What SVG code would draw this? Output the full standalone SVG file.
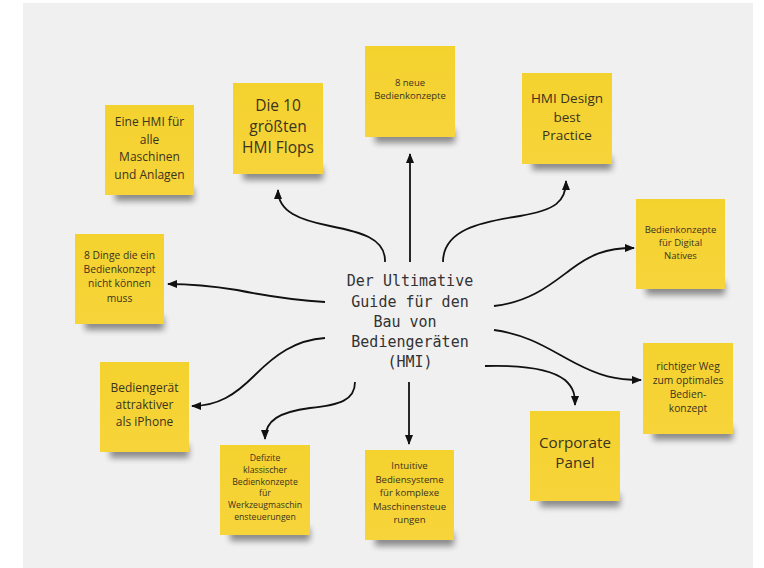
<svg xmlns="http://www.w3.org/2000/svg" width="764" height="568" viewBox="0 0 764 568">
<defs>
<filter id="blur" x="-20%" y="-50%" width="140%" height="200%"><feGaussianBlur stdDeviation="3"/></filter>
<linearGradient id="yel" x1="0" y1="0" x2="0" y2="1"><stop offset="0" stop-color="#f4d22e"/><stop offset="1" stop-color="#f7d43a"/></linearGradient>
<marker id="ah" markerUnits="userSpaceOnUse" markerWidth="10" markerHeight="8" refX="9" refY="4" orient="auto"><path d="M0,0 L10,4 L0,8 Z" fill="#111"/></marker>
<style>
.bg{fill:#f0f0f0}
.note{fill:url(#yel)}
.sh{fill:#000;opacity:.42;filter:url(#blur)}
.t{font-family:"Open Sans","Noto Sans","Liberation Sans",sans-serif;fill:#3a3320;text-anchor:middle}
.c{font-family:"DejaVu Sans Mono","Liberation Mono",monospace;font-size:15px;fill:#333;text-anchor:middle}
.e{fill:none;stroke:#111;stroke-width:1.8;marker-end:url(#ah)}
</style>
</defs>
<rect class="bg" x="23" y="3" width="730" height="565"/>

<g id="connectors">
<path class="e" d="M385,262 C386,238 360,232 330,226 C300,220 278,212 278,190"/>
<path class="e" d="M410,262 L410,154"/>
<path class="e" d="M443,262 C443,230 480,222 520,216 C555,210 566,202 566,181"/>
<path class="e" d="M494,306 C530,302 550,285 570,270 C590,255 605,248 634,248"/>
<path class="e" d="M325,302 C290,300 262,295 237,290 C212,286 192,284 168,284"/>
<path class="e" d="M325,338 C295,340 275,355 255,375 C235,395 218,406 192,406"/>
<path class="e" d="M355,382 C355,400 340,405 310,408 C280,412 265,420 265,439"/>
<path class="e" d="M409,382 L409,444"/>
<path class="e" d="M485,366 C520,365 550,368 565,380 C574,388 575,395 575,405"/>
<path class="e" d="M494,330 C530,335 550,350 575,363 C600,376 615,380 641,380"/>
</g>

<g id="center">
<text class="c" x="410" y="286">Der Ultimative</text>
<text class="c" x="410" y="307">Guide für den</text>
<text class="c" x="405" y="327">Bau von</text>
<text class="c" x="410" y="347">Bediengeräten</text>
<text class="c" x="410" y="367">(HMI)</text>
</g>

<g id="n1">
<rect class="sh" x="115" y="188" width="79" height="13"/>
<rect class="note" x="105" y="105" width="89" height="90"/>
<text class="t" font-size="12"><tspan x="149.5" y="126">Eine HMI für</tspan><tspan x="149.5" y="143.5">alle</tspan><tspan x="149.5" y="161">Maschinen</tspan><tspan x="149.5" y="178.5">und Anlagen</tspan></text>
</g>

<g id="n2">
<rect class="sh" x="243" y="167" width="80" height="13"/>
<rect class="note" x="233" y="83" width="90" height="91"/>
<text class="t" font-size="15.5"><tspan x="278" y="110.5">Die 10</tspan><tspan x="278" y="131.5">größten</tspan><tspan x="278" y="152.5">HMI Flops</tspan></text>
</g>

<g id="n3">
<rect class="sh" x="375" y="130" width="80" height="13"/>
<rect class="note" x="365" y="46" width="90" height="91"/>
<text class="t" font-size="9.5"><tspan x="410" y="85.5">8 neue</tspan><tspan x="410" y="99">Bedienkonzepte</tspan></text>
</g>

<g id="n4">
<rect class="sh" x="532" y="157" width="80" height="13"/>
<rect class="note" x="522" y="73" width="90" height="91"/>
<text class="t" font-size="13.5"><tspan x="567" y="103">HMI Design</tspan><tspan x="567" y="122">best</tspan><tspan x="567" y="140">Practice</tspan></text>
</g>

<g id="n5">
<rect class="sh" x="646" y="282" width="79" height="13"/>
<rect class="note" x="636" y="199" width="89" height="90"/>
<text class="t" font-size="9.5"><tspan x="680.5" y="232.5">Bedienkonzepte</tspan><tspan x="680.5" y="245.5">für Digital</tspan><tspan x="680.5" y="258.5">Natives</tspan></text>
</g>

<g id="n6">
<rect class="sh" x="85" y="317" width="79" height="13"/>
<rect class="note" x="75" y="234" width="89" height="90"/>
<text class="t" font-size="10.3"><tspan x="119.5" y="258.6">8 Dinge die ein</tspan><tspan x="119.5" y="273">Bedienkonzept</tspan><tspan x="119.5" y="287.4">nicht können</tspan><tspan x="119.5" y="301.8">muss</tspan></text>
</g>

<g id="n7">
<rect class="sh" x="110" y="445" width="79" height="13"/>
<rect class="note" x="100" y="362" width="89" height="90"/>
<text class="t" font-size="12"><tspan x="144.5" y="392">Bediengerät</tspan><tspan x="144.5" y="409">attraktiver</tspan><tspan x="144.5" y="426">als iPhone</tspan></text>
</g>

<g id="n8">
<rect class="sh" x="230" y="528" width="80" height="13"/>
<rect class="note" x="220" y="445" width="90" height="90"/>
<text class="t" font-size="8.7"><tspan x="265" y="461">Defizite</tspan><tspan x="265" y="472.8">klassischer</tspan><tspan x="265" y="484.6">Bedienkonzepte</tspan><tspan x="265" y="496.4">für</tspan><tspan x="265" y="508.2">Werkzeugmaschin</tspan><tspan x="265" y="520">ensteuerungen</tspan></text>
</g>

<g id="n9">
<rect class="sh" x="375" y="533" width="79" height="13"/>
<rect class="note" x="365" y="450" width="89" height="90"/>
<text class="t" font-size="9.6"><tspan x="409.5" y="469.4">Intuitive</tspan><tspan x="409.5" y="482.9">Bediensysteme</tspan><tspan x="409.5" y="496.4">für komplexe</tspan><tspan x="409.5" y="509.9">Maschinensteue</tspan><tspan x="409.5" y="523.4">rungen</tspan></text>
</g>

<g id="n10">
<rect class="sh" x="540" y="494" width="80" height="13"/>
<rect class="note" x="530" y="411" width="90" height="90"/>
<text class="t" font-size="15.2"><tspan x="575" y="448.3">Corporate</tspan><tspan x="575" y="468.3">Panel</tspan></text>
</g>

<g id="n11">
<rect class="sh" x="653" y="427" width="80" height="13"/>
<rect class="note" x="643" y="343" width="90" height="91"/>
<text class="t" font-size="10.3"><tspan x="688" y="369.6">richtiger Weg</tspan><tspan x="688" y="383.6">zum optimales</tspan><tspan x="688" y="397.6">Bedien-</tspan><tspan x="688" y="411.6">konzept</tspan></text>
</g>
</svg>
